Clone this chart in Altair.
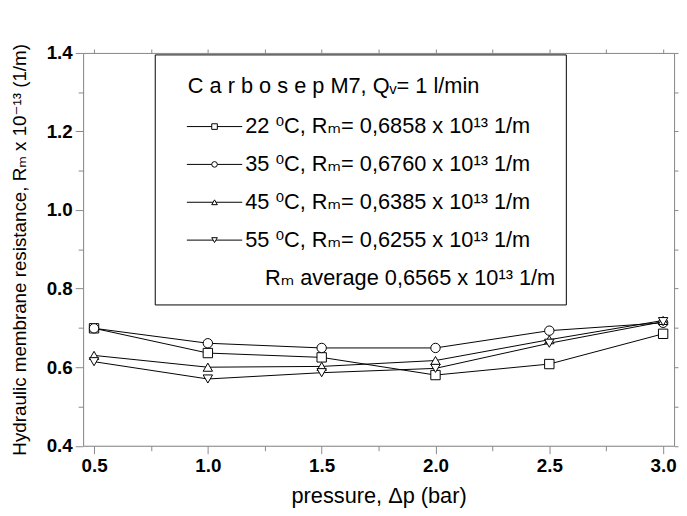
import altair as alt
import pandas as pd

# ---- data ----
pressure = [0.5, 1.0, 1.5, 2.0, 2.5, 3.0]
series = ["22 °C", "35 °C", "45 °C", "55 °C"]
r_22 = [0.699, 0.636, 0.625, 0.580, 0.608, 0.685]
r_35 = [0.699, 0.661, 0.649, 0.649, 0.693, 0.713]
r_45 = [0.630, 0.600, 0.602, 0.617, 0.670, 0.719]
r_55 = [0.614, 0.570, 0.586, 0.597, 0.661, 0.716]
shapes = ["square", "circle", "triangle-up", "triangle-down"]

legend_title = "C a r b o s e p  M7, Qᵥ= 1 l/min"
legend_labels = [
    "22 ⁰C, Rₘ= 0,6858 x 10¹³ 1/m",
    "35 ⁰C, Rₘ= 0,6760 x 10¹³ 1/m",
    "45 ⁰C, Rₘ= 0,6385 x 10¹³ 1/m",
    "55 ⁰C, Rₘ= 0,6255 x 10¹³ 1/m",
]
legend_avg = "Rₘ average 0,6565 x 10¹³ 1/m"

x_ticks = [0.5, 0.75, 1.0, 1.25, 1.5, 1.75, 2.0, 2.25, 2.5, 2.75, 3.0]
y_ticks = [0.4, 0.5, 0.6, 0.7, 0.8, 0.9, 1.0, 1.1, 1.2, 1.3, 1.4]

rows = []
for s, vals in zip(series, [r_22, r_35, r_45, r_55]):
    for p, v in zip(pressure, vals):
        rows.append({"series": s, "pressure": p, "R": v})
df = pd.DataFrame(rows)
one = pd.DataFrame({"k": [0]})

FONT = "Liberation Sans, Arial, DejaVu Sans"
W, H = 598, 397.5

xscale = alt.Scale(domain=[0.452, 3.048], nice=False, zero=False)
yscale = alt.Scale(domain=[0.4, 1.4], nice=False, zero=False)

x_major = "round(datum.value*4) % 2 == 0"
y_major = "round(datum.value*10) % 2 == 0"

x_axis = alt.Axis(
    values=x_ticks,
    labelExpr=f"{x_major} ? format(datum.value, '.1f') : ''",
    tickSize={"condition": {"test": x_major, "value": 8}, "value": 5},
    title="pressure, Δp (bar)",
    titleX=W / 2, titleY=50, titleAnchor="middle", titleAlign="center", titleBaseline="middle",
    titleFontSize=22, titleFontWeight="normal", titleFont=FONT,
    labelFont=FONT, labelFontSize=19, labelFontWeight="bold", labelPadding=3,
    labelFlush=False, grid=False,
)
y_axis = alt.Axis(
    values=y_ticks,
    labelExpr=f"{y_major} ? format(datum.value, '.1f') : ''",
    tickSize={"condition": {"test": y_major, "value": 8}, "value": 5},
    title="Hydraulic membrane resistance, Rₘ x 10⁻¹³ (1/m)",
    titleX=-64, titleY=H / 2, titleAngle=270, titleAlign="center", titleBaseline="middle",
    titleFontSize=19, titleFontWeight="normal", titleFont=FONT,
    labelFont=FONT, labelFontSize=19, labelFontWeight="bold", labelPadding=3,
    labelFlush=False, grid=False,
)

base = alt.Chart(df)
lines = base.mark_line(color="black", strokeWidth=1).encode(
    x=alt.X("pressure:Q", scale=xscale, axis=x_axis),
    y=alt.Y("R:Q", scale=yscale, axis=y_axis),
    detail="series:N",
)
points = base.mark_point(filled=True, fill="white", stroke="black", strokeWidth=1,
                         size=90, opacity=1).encode(
    x=alt.X("pressure:Q", scale=xscale, axis=None),
    y=alt.Y("R:Q", scale=yscale, axis=None),
    shape=alt.Shape("series:N", scale=alt.Scale(domain=series, range=shapes), legend=None),
)

# top / right axes (ticks only)
frame = base.mark_point(opacity=0).encode(
    x=alt.X("pressure:Q", scale=xscale,
            axis=alt.Axis(orient="top", values=x_ticks, labels=False, title=None,
                          tickSize=4, grid=False)),
    y=alt.Y("R:Q", scale=yscale,
            axis=alt.Axis(orient="right", values=y_ticks, labels=False, title=None,
                          tickSize=4, grid=False)),
)

# ---- legend box ----
def legend_text(txt, x, y):
    return alt.Chart(one).mark_text(align="left", baseline="middle", font=FONT,
                                    fontSize=22, fontWeight="normal", color="black").encode(
        x=alt.value(x), y=alt.value(y), text=alt.value(txt))

layers = []
layers.append(alt.Chart(one).mark_rect(fill="white", stroke="black", strokeWidth=1).encode(
    x=alt.value(73), x2=alt.value(489), y=alt.value(2), y2=alt.value(255)))
layers.append(legend_text(legend_title, 106, 33.5))
row0, step = 74.5, 38.3
for i, (lab, shp) in enumerate(zip(legend_labels, shapes)):
    ry = row0 + i * step
    layers.append(alt.Chart(one).mark_rule(color="black", strokeWidth=1).encode(
        x=alt.value(105), x2=alt.value(161), y=alt.value(ry)))
    layers.append(alt.Chart(one).mark_point(shape=shp, filled=True, fill="white", stroke="black",
                                            strokeWidth=1, size=32, opacity=1).encode(
        x=alt.value(133), y=alt.value(ry)))
    layers.append(legend_text(lab, 164, ry))
layers.append(legend_text(legend_avg, 184, row0 + 4 * step))

chart = alt.layer(lines, points, frame, *layers).resolve_axis(
    x="independent", y="independent"
).properties(
    width=W, height=H,
    autosize=alt.AutoSizeParams(type="none"),
    padding={"left": 76, "top": 42.5, "right": 5, "bottom": 60},
).configure_view(stroke="black", strokeWidth=1).configure_axis(
    domainColor="black", tickColor="black", labelColor="black", titleColor="black",
    domainWidth=1, tickWidth=1,
).configure(background="white")

chart.save("out.html", embed_options={"renderer": "svg", "actions": False})
